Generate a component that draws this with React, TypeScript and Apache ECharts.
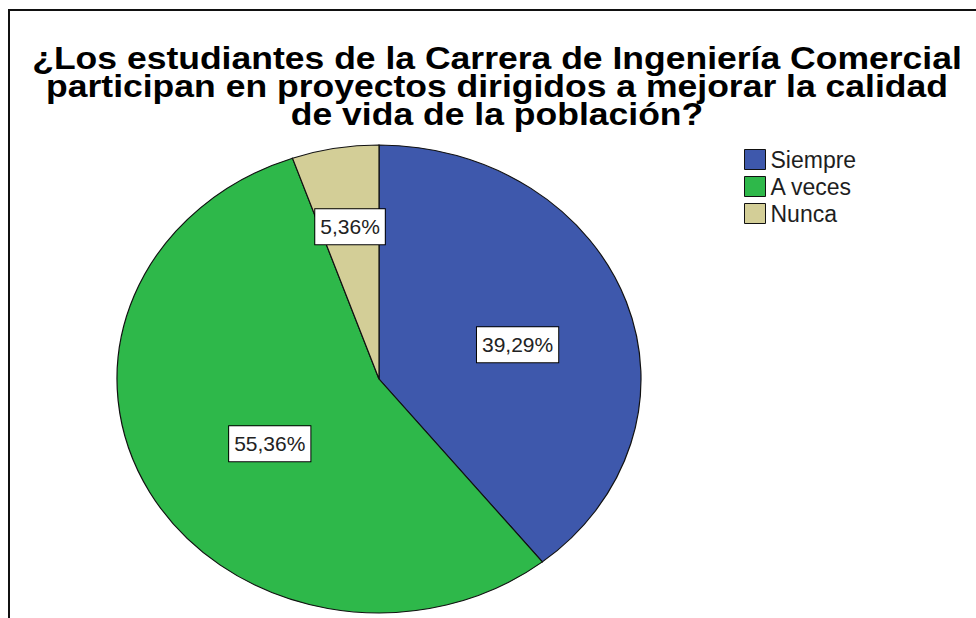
import React, { useEffect, useRef } from "react";
import * as echarts from "echarts";

const categories = ["Siempre", "A veces", "Nunca"];
const counts = [22, 31, 3];
const colors = ["#3E58AC", "#2EB84A", "#D3CE97"];
const titleText =
  "¿Los estudiantes de la Carrera de Ingeniería Comercial\nparticipan en proyectos dirigidos a mejorar la calidad\nde vida de la población?";

export default function App() {
  const ref = useRef<HTMLDivElement>(null);

  useEffect(() => {
    const chart = echarts.init(ref.current!, null, { renderer: "svg" });
    const total = counts.reduce((a, b) => a + b, 0);
    const CX = 379;
    const CY = 379;
    const RX = 262;
    const RY = 234;

    const series = categories.map((name, i) => ({
      type: "custom",
      name,
      coordinateSystem: "none",
      itemStyle: { color: colors[i] },
      data: [[counts[i]]],
      renderItem: (params: any, api: any) => {
        const v = api.value(0);
        const before = counts.slice(0, i).reduce((a, b) => a + b, 0);
        const a0 = -Math.PI / 2 + (2 * Math.PI * before) / total;
        const a1 = a0 + (2 * Math.PI * v) / total;
        const mid = (a0 + a1) / 2;
        const share = v / total;
        const small = share < 0.15;
        const rf = small ? 0.66 : 0.52;
        const lx = CX + RX * rf * Math.cos(mid) + (small ? 0 : 10);
        const ly = CY + RY * rf * Math.sin(mid) + (small ? 0 : 6);
        const pct = (share * 100).toFixed(2).replace(".", ",") + "%";
        return {
          type: "group",
          children: [
            {
              type: "group",
              x: CX,
              y: CY,
              scaleY: RY / RX,
              children: [
                {
                  type: "sector",
                  shape: { cx: 0, cy: 0, r0: 0, r: RX, startAngle: a0, endAngle: a1, clockwise: true },
                  style: { fill: api.visual("color"), stroke: "#111", lineWidth: 1.2, strokeNoScale: true },
                },
              ],
            },
            {
              type: "text",
              x: lx,
              y: ly,
              z2: 10,
              style: {
                text: pct,
                fill: "#222",
                font: '21px "Liberation Sans", Arial, sans-serif',
                align: "center",
                verticalAlign: "middle",
                backgroundColor: "#fff",
                borderColor: "#000",
                borderWidth: 1,
                padding: [7, 5, 7, 5],
                lineHeight: 21,
              },
            },
          ],
        };
      },
    }));

    chart.setOption({
      animation: false,
      backgroundColor: "#fff",
      legend: {
        data: categories,
        orient: "vertical",
        left: 739,
        top: 143,
        itemWidth: 21,
        itemHeight: 20,
        itemGap: 4,
        icon: "rect",
        selectedMode: false,
        itemStyle: { borderColor: "#111", borderWidth: 1 },
        textStyle: {
          fontFamily: '"Liberation Sans", Arial, sans-serif',
          fontSize: 23,
          lineHeight: 20,
          color: "#1e1e1e",
        },
      },
      graphic: [
        {
          type: "line",
          shape: { x1: 9, y1: 9, x2: 9, y2: 618 },
          style: { stroke: "#111", lineWidth: 2 },
        },
        {
          type: "line",
          shape: { x1: 8, y1: 10, x2: 976, y2: 10 },
          style: { stroke: "#111", lineWidth: 2 },
        },
        {
          type: "text",
          x: 497,
          y: 44,
          scaleX: 1.146,
          style: {
            text: titleText,
            font: 'bold 31px "Liberation Sans", Arial, sans-serif',
            fill: "#000",
            align: "center",
            verticalAlign: "top",
            lineHeight: 28,
          },
        },
      ],
      series,
    });

    return () => chart.dispose();
  }, []);

  return (
    <div
      ref={ref}
      style={{ position: "absolute", left: 0, top: 0, width: 976, height: 618, background: "#fff" }}
    />
  );
}
